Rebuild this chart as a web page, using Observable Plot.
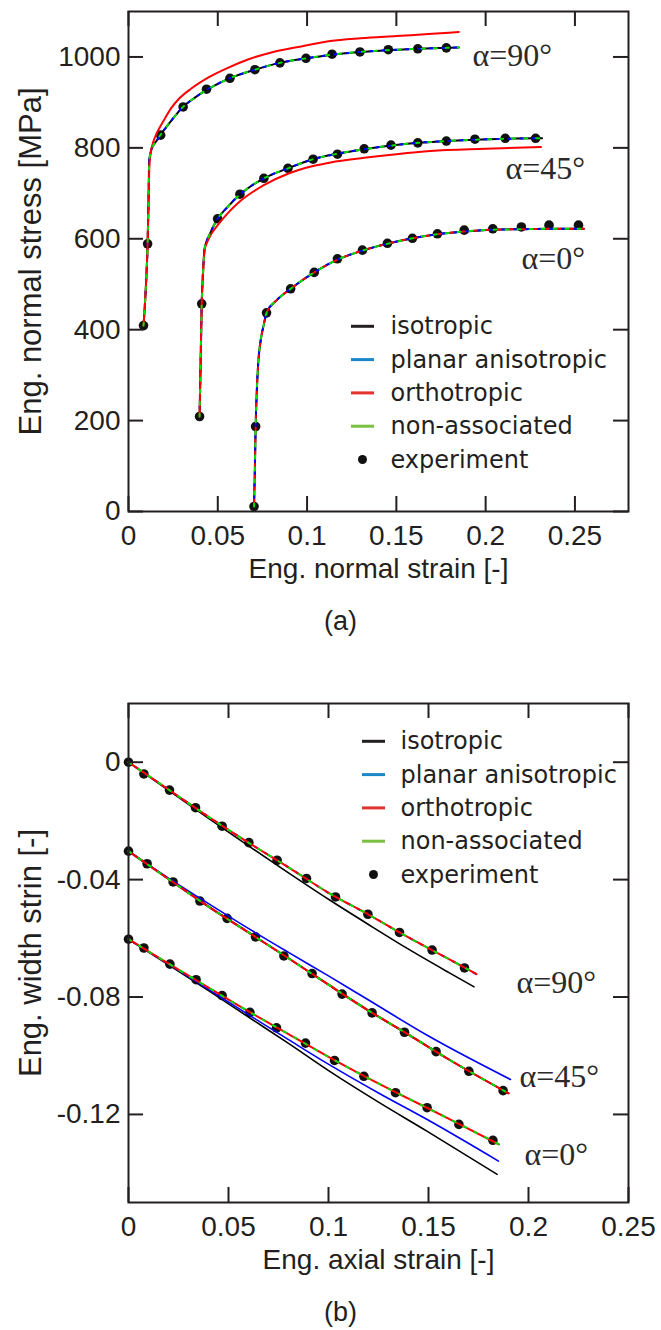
<!DOCTYPE html>
<html><head><meta charset="utf-8">
<script src="https://cdn.jsdelivr.net/npm/d3@7"></script>
<script src="https://cdn.jsdelivr.net/npm/@observablehq/plot@0.6"></script>
<style>
body{margin:0;background:#fff;}
#chart svg{display:block;}
g[aria-label="tick-label"] text{letter-spacing:0.7px;}
g[aria-label="axis-label"] text{letter-spacing:0.8px;}
g[aria-label="alpha-label"] text{letter-spacing:2px;}
</style></head><body><div id="chart"></div>
<script>
// ---------- ticks & labels ----------
const xTicksA = [0, 0.05, 0.1, 0.15, 0.2, 0.25];
const yTicksA = [0, 200, 400, 600, 800, 1000];
const xTicksB = [0, 0.05, 0.1, 0.15, 0.2, 0.25];
const yTicksB = [0, -0.04, -0.08, -0.12];
const modelNames = ["isotropic", "planar anisotropic", "orthotropic", "non-associated"];
const legendLabels = [...modelNames, "experiment"];
const alphaLabels = ["α=90°", "α=45°", "α=0°"];

// ---------- panel (a): stress vs strain ----------
const expA90 = [[0.0084,409],[0.0107,589],[0.018,828],[0.0306,890],[0.0437,929],[0.0568,953],[0.0708,972],[0.0848,987],[0.0994,997],[0.114,1006],[0.1296,1011],[0.1455,1016],[0.162,1018],[0.178,1020]];
const fitA90 = [[0.0084,409],[0.0098,500],[0.0107,589],[0.0112,680],[0.0116,770],[0.0125,792],[0.014,806],[0.016,817],[0.0178,828],[0.022,850],[0.026,870],[0.0305,890],[0.037,910],[0.0435,927],[0.05,941],[0.0566,953],[0.0708,972],[0.0848,987],[0.0994,997],[0.114,1005],[0.1296,1011],[0.1455,1015],[0.162,1018],[0.178,1020],[0.185,1021]];
const orthoA90 = [[0.0084,409],[0.0098,500],[0.0107,589],[0.0112,680],[0.0117,760],[0.0123,785],[0.0135,808],[0.015,825],[0.0168,840],[0.02,862],[0.024,888],[0.028,907],[0.035,930],[0.0448,955],[0.055,975],[0.0673,995],[0.08,1010],[0.095,1022],[0.113,1035],[0.13,1041],[0.15,1046],[0.17,1051],[0.185,1055]];
const expA45 = [[0.0398,209],[0.041,457],[0.0499,644],[0.0624,698],[0.0758,733],[0.0893,755],[0.1034,775],[0.117,786],[0.132,798],[0.147,806],[0.162,811],[0.178,815],[0.194,819],[0.211,821],[0.228,821]];
const fitA45 = [[0.0398,209],[0.0404,330],[0.041,457],[0.0418,530],[0.0426,578],[0.0438,595],[0.0455,610],[0.0475,627],[0.0499,644],[0.055,668],[0.0626,698],[0.0758,733],[0.0893,755],[0.1034,775],[0.117,787],[0.132,797],[0.147,805],[0.162,811],[0.178,815],[0.194,818],[0.211,820],[0.228,821],[0.2316,821]];
const orthoA45 = [[0.0398,209],[0.0404,330],[0.041,457],[0.0418,530],[0.0426,575],[0.044,592],[0.046,608],[0.0504,632],[0.056,658],[0.0626,683],[0.0758,718],[0.0893,743],[0.1034,760],[0.1132,768],[0.132,778],[0.15,786],[0.169,793],[0.2,798],[0.231,802]];
const expA0 = [[0.0703,11],[0.0712,187],[0.0773,437],[0.0908,490],[0.104,526],[0.117,556],[0.131,575],[0.145,590],[0.159,601],[0.173,611],[0.188,619],[0.204,622],[0.22,626],[0.2355,630],[0.252,630]];
const fitA0 = [[0.0703,11],[0.0708,100],[0.0712,187],[0.0718,260],[0.0727,330],[0.074,376],[0.0757,410],[0.0773,437],[0.083,465],[0.0908,490],[0.104,526],[0.117,554],[0.131,574],[0.145,589],[0.159,601],[0.173,610],[0.188,616],[0.204,620],[0.22,621],[0.236,622],[0.255,622]];

// ---------- panel (b): width strain vs axial strain ----------
const expB90 = [[0,0],[0.0077,-0.004],[0.0205,-0.0095],[0.0335,-0.0155],[0.0468,-0.0218],[0.0602,-0.0274],[0.0743,-0.0334],[0.089,-0.0396],[0.1035,-0.0459],[0.1197,-0.0518],[0.1355,-0.058],[0.1518,-0.064],[0.168,-0.0701]];
const fitB90 = [[0,0],[0.02,-0.0093],[0.04,-0.0186],[0.06,-0.0274],[0.08,-0.0358],[0.1,-0.0445],[0.12,-0.0519],[0.14,-0.0597],[0.16,-0.067],[0.174,-0.0722]];
const isoB90 = [[0,0],[0.02,-0.0096],[0.04,-0.0191],[0.06,-0.0285],[0.08,-0.0377],[0.1,-0.0467],[0.12,-0.0553],[0.14,-0.0637],[0.16,-0.0716],[0.1727,-0.0765]];
const expB45 = [[0,-0.0303],[0.0093,-0.0346],[0.0223,-0.0408],[0.0357,-0.0473],[0.0493,-0.0532],[0.0635,-0.0595],[0.0777,-0.066],[0.0918,-0.072],[0.1068,-0.079],[0.1218,-0.0854],[0.138,-0.092],[0.1538,-0.0986],[0.1702,-0.1053],[0.1873,-0.1119]];
const fitB45 = [[0,-0.0303],[0.02,-0.0398],[0.04,-0.0492],[0.06,-0.058],[0.08,-0.0668],[0.1,-0.0758],[0.12,-0.0846],[0.14,-0.0928],[0.16,-0.1012],[0.19,-0.1128]];
const planarB45 = [[0,-0.0303],[0.02,-0.0395],[0.04,-0.0482],[0.056,-0.055],[0.08,-0.0648],[0.1,-0.0728],[0.119,-0.0806],[0.15,-0.0933],[0.191,-0.1081]];
const expB0 = [[0,-0.0603],[0.0077,-0.0633],[0.0207,-0.0688],[0.0338,-0.0741],[0.0468,-0.0795],[0.0607,-0.0852],[0.074,-0.0905],[0.0885,-0.0957],[0.103,-0.1016],[0.1177,-0.107],[0.1335,-0.1126],[0.1493,-0.1177],[0.1652,-0.1234],[0.1822,-0.1288]];
const fitB0 = [[0,-0.0603],[0.02,-0.0686],[0.04,-0.0768],[0.06,-0.0849],[0.08,-0.0926],[0.1,-0.1004],[0.12,-0.1077],[0.14,-0.1146],[0.16,-0.1214],[0.1852,-0.1302]];
const planarB0 = [[0,-0.0603],[0.02,-0.0688],[0.04,-0.0774],[0.06,-0.086],[0.08,-0.0945],[0.101,-0.1033],[0.125,-0.1127],[0.15,-0.122],[0.185,-0.1359]];
const isoB0 = [[0,-0.0603],[0.02,-0.069],[0.04,-0.0778],[0.06,-0.0868],[0.08,-0.0958],[0.101,-0.1055],[0.125,-0.1158],[0.149,-0.1256],[0.1843,-0.1404]];

// ---------- styles ----------
const INK = "#231f20";
const lineColors = ["#000000", "#0000ff", "#ff0000", "#00e000"];
const legendColors = ["#231f20", "#1a87c9", "#e2332f", "#7ac143"];
const SANS = "Liberation Sans, Arial, sans-serif";
const dashSym = {draw(ctx){ ctx.moveTo(-11.5, 0); ctx.lineTo(11.5, 0); }};

function curve(data, model, dashed, width) {
  const opts = {x: d => d[0], y: d => d[1], stroke: lineColors[model], strokeWidth: width ?? 2, curve: "monotone-x"};
  if (dashed) { opts.strokeDasharray = "3,9"; opts.strokeDashoffset = model * 4; }
  return Plot.line(data, opts);
}

function panel(p) {
  const fw = p.width - p.ml - p.mr, fh = p.height - p.mt - p.mb;
  const marks = [];
  for (const e of p.exp) marks.push(Plot.dot(e, {x: d => d[0], y: d => d[1], r: 4.8, fill: "#111", stroke: null}));
  marks.push(...p.curves);
  marks.push(Plot.frame({stroke: INK, strokeWidth: 2}));
  marks.push(Plot.tickX(p.xTicks, {x: d => d, insetTop: fh - 15, stroke: INK, strokeWidth: 2}));
  marks.push(Plot.tickX(p.xTicks, {x: d => d, insetBottom: fh - 15, stroke: INK, strokeWidth: 2}));
  marks.push(Plot.tickY(p.yTicks, {y: d => d, insetRight: fw - 15, stroke: INK, strokeWidth: 2}));
  marks.push(Plot.tickY(p.yTicks, {y: d => d, insetLeft: fw - 15, stroke: INK, strokeWidth: 2}));
  marks.push(Plot.text(p.xTicks, {x: d => d, frameAnchor: "bottom", dy: 33, lineAnchor: "bottom", textAnchor: "middle", text: d => String(d), fontSize: 28, fontFamily: SANS, fill: INK, ariaLabel: "tick-label"}));
  marks.push(Plot.text(p.yTicks, {y: d => d, frameAnchor: "left", dx: -8, textAnchor: "end", lineAnchor: "middle", text: d => String(d), fontSize: 28, fontFamily: SANS, fill: INK, ariaLabel: "tick-label"}));
  marks.push(Plot.text([p.xLabel], {frameAnchor: "bottom", dy: 66, lineAnchor: "bottom", textAnchor: "middle", text: d => d, fontSize: 28, fontFamily: SANS, fill: INK, ariaLabel: "axis-label"}));
  marks.push(Plot.text([p.yLabel], {frameAnchor: "left", dx: -88, rotate: -90, lineAnchor: "bottom", textAnchor: "middle", text: d => d, fontSize: 31, fontFamily: SANS, fill: INK, ariaLabel: "axis-label"}));
  marks.push(Plot.text([p.tag], {frameAnchor: "bottom", dx: -38, dy: 118, lineAnchor: "bottom", textAnchor: "middle", text: d => d, fontSize: 27, fontFamily: SANS, fill: INK}));
  alphaLabels.forEach((a, i) => {
    marks.push(Plot.text([a], {frameAnchor: "top-left", dx: p.alphaPos[i][0], dy: p.alphaPos[i][1], lineAnchor: "bottom", textAnchor: "start", text: d => d, fontSize: 32, fontFamily: "Liberation Serif, Times New Roman, serif", fill: "#2a2a2a", ariaLabel: "alpha-label"}));
  });
  const lh = 33.3;
  marks.push(Plot.text([legendLabels.join("\n")], {frameAnchor: "top-left", dx: p.legText[0], dy: p.legText[1], lineAnchor: "bottom", textAnchor: "start", lineHeight: lh / 24, text: d => d, fontSize: 24, fontFamily: "DejaVu Sans, sans-serif", fill: INK}));
  legendLabels.forEach((lab, i) => {
    const dy = p.legText[1] - (legendLabels.length - 1 - i) * lh - 8;
    if (i < 4) marks.push(Plot.dot([lab], {frameAnchor: "top-left", dx: p.legMark, dy, symbol: dashSym, stroke: legendColors[i], strokeWidth: 3, r: 4}));
    else marks.push(Plot.dot([lab], {frameAnchor: "top-left", dx: p.legMark, dy, r: 4.5, fill: "#111", stroke: null}));
  });
  return Plot.plot({
    width: p.width, height: p.height,
    marginLeft: p.ml, marginRight: p.mr, marginTop: p.mt, marginBottom: p.mb,
    x: {domain: p.xDomain, axis: null},
    y: {domain: p.yDomain, axis: null},
    style: {background: "#fff", overflow: "visible", fontFamily: SANS},
    marks
  });
}

const curvesA = [
  curve(fitA90, 0), curve(fitA45, 0), curve(fitA0, 0),
  curve(fitA90, 1, true), curve(fitA45, 1, true), curve(fitA0, 1, true),
  curve(orthoA90, 2), curve(orthoA45, 2), curve(fitA0, 2, true),
  curve(fitA90, 3, true), curve(fitA45, 3, true), curve(fitA0, 3, true)
];
const curvesB = [
  curve(isoB90, 0, false, 1.6), curve(fitB45, 0), curve(isoB0, 0, false, 1.6),
  curve(fitB90, 1, true), curve(planarB45, 1, false, 1.6), curve(planarB0, 1, false, 1.6),
  curve(fitB90, 2), curve(fitB45, 2), curve(fitB0, 2),
  curve(fitB90, 3, true), curve(fitB45, 3, true), curve(fitB0, 3, true)
];

const chart = document.getElementById("chart");
chart.append(panel({
  width: 661, height: 650, ml: 128, mr: 33, mt: 11, mb: 139,
  xDomain: [0, 0.28], yDomain: [0, 1100],
  xTicks: xTicksA, yTicks: yTicksA,
  xLabel: "Eng. normal strain [-]", yLabel: "Eng. normal stress [MPa]", tag: "(a)",
  exp: [expA90, expA45, expA0], curves: curvesA,
  alphaPos: [[344, 54], [377, 167], [393, 257]],
  legText: [262, 456], legMark: 234
}));
chart.append(panel({
  width: 661, height: 680, ml: 128, mr: 33, mt: 53, mb: 128,
  xDomain: [0, 0.25], yDomain: [-0.15, 0.02],
  xTicks: xTicksB, yTicks: yTicksB,
  xLabel: "Eng. axial strain [-]", yLabel: "Eng. width strin [-]", tag: "(b)",
  exp: [expB90, expB45, expB0], curves: curvesB,
  alphaPos: [[388, 289], [391, 383], [396, 461]],
  legText: [272, 179], legMark: 245
}));
</script></body></html>
